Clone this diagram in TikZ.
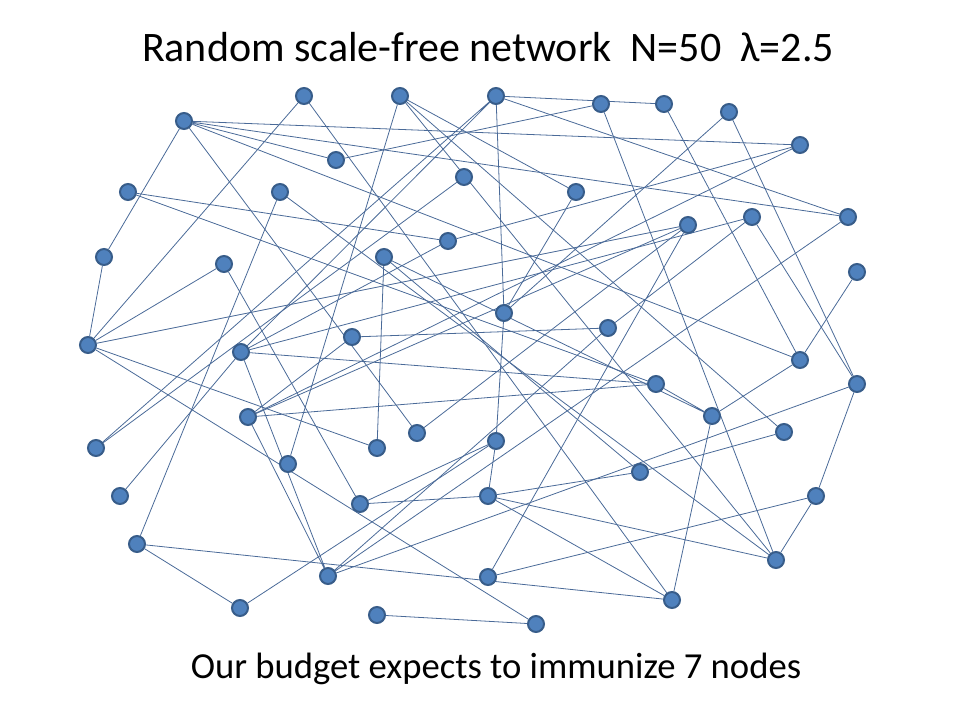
\documentclass[tikz,border=0pt]{standalone}
\usepackage{fontspec}
\setmainfont{Carlito}
\usetikzlibrary{backgrounds}
\definecolor{nodefill}{HTML}{4F81BD}
\definecolor{nodeline}{HTML}{385D8A}
\definecolor{edgeline}{HTML}{4A6A98}
\begin{document}
\begin{tikzpicture}[x=0.75pt,y=-0.75pt,
  vertex/.style={circle,fill=nodefill,draw=nodeline,line width=1.5pt,minimum size=12pt,inner sep=0pt},
  link/.style={edgeline,line width=0.6pt}]
\useasboundingbox (0,0) rectangle (960,720);
\node (title) at (488,47) {\fontsize{31.5}{36}\selectfont Random scale-free network\ \ N=50\ \ λ=2.5};
\node (budget) at (496,669) {\fontsize{27.5}{32}\selectfont Our budget expects to immunize 7 nodes};
\node[vertex] (n1) at (184,121) {};
\node[vertex] (n2) at (304,96) {};
\node[vertex] (n3) at (400,96) {};
\node[vertex] (n4) at (496,96) {};
\node[vertex] (n5) at (601,104) {};
\node[vertex] (n6) at (664,104) {};
\node[vertex] (n7) at (729,112) {};
\node[vertex] (n8) at (800,145) {};
\node[vertex] (n9) at (336,160) {};
\node[vertex] (n10) at (128,192) {};
\node[vertex] (n11) at (280,192) {};
\node[vertex] (n12) at (464,177) {};
\node[vertex] (n13) at (576,192) {};
\node[vertex] (n14) at (848,217) {};
\node[vertex] (n15) at (752,217) {};
\node[vertex] (n16) at (688,225) {};
\node[vertex] (n17) at (448,241) {};
\node[vertex] (n18) at (104,257) {};
\node[vertex] (n19) at (224,264) {};
\node[vertex] (n20) at (384,257) {};
\node[vertex] (n21) at (857,272) {};
\node[vertex] (n22) at (504,313) {};
\node[vertex] (n23) at (608,328) {};
\node[vertex] (n24) at (88,345) {};
\node[vertex] (n25) at (352,337) {};
\node[vertex] (n26) at (241,352) {};
\node[vertex] (n27) at (800,360) {};
\node[vertex] (n28) at (656,384) {};
\node[vertex] (n29) at (857,384) {};
\node[vertex] (n30) at (248,417) {};
\node[vertex] (n31) at (712,416) {};
\node[vertex] (n32) at (417,433) {};
\node[vertex] (n33) at (377,448) {};
\node[vertex] (n34) at (496,441) {};
\node[vertex] (n35) at (784,432) {};
\node[vertex] (n36) at (96,448) {};
\node[vertex] (n37) at (288,464) {};
\node[vertex] (n38) at (640,472) {};
\node[vertex] (n39) at (120,496) {};
\node[vertex] (n40) at (360,504) {};
\node[vertex] (n41) at (488,496) {};
\node[vertex] (n42) at (816,496) {};
\node[vertex] (n43) at (137,544) {};
\node[vertex] (n44) at (776,560) {};
\node[vertex] (n45) at (328,576) {};
\node[vertex] (n46) at (488,577) {};
\node[vertex] (n47) at (672,600) {};
\node[vertex] (n48) at (240,608) {};
\node[vertex] (n49) at (377,615) {};
\node[vertex] (n50) at (536,624) {};
\begin{scope}[on background layer]
\draw[link] (n1) -- (n8) (n1) -- (n14) (n1) -- (n9) (n1) -- (n27) (n1) -- (n18) (n1) -- (n32);
\draw[link] (n18) -- (n24) (n2) -- (n24) (n2) -- (n47);
\draw[link] (n3) -- (n37) (n3) -- (n13) (n3) -- (n44) (n3) -- (n35);
\draw[link] (n4) -- (n6) (n4) -- (n14) (n4) -- (n22) (n4) -- (n36) (n4) -- (n26);
\draw[link] (n9) -- (n5) (n5) -- (n44) (n6) -- (n27) (n7) -- (n22) (n7) -- (n29);
\draw[link] (n8) -- (n17) (n8) -- (n30) (n10) -- (n17) (n10) -- (n28);
\draw[link] (n11) -- (n43) (n11) -- (n44) (n12) -- (n36);
\draw[link] (n19) -- (n24) (n19) -- (n40) (n24) -- (n16) (n24) -- (n33) (n24) -- (n50);
\draw[link] (n13) -- (n22) (n25) -- (n23) (n22) -- (n34);
\draw[link] (n34) -- (n41) (n40) -- (n34) (n40) -- (n41) (n48) -- (n34);
\draw[link] (n43) -- (n47) (n41) -- (n47) (n47) -- (n31) (n41) -- (n44) (n41) -- (n38);
\draw[link] (n26) -- (n45) (n30) -- (n45) (n30) -- (n28) (n26) -- (n28) (n26) -- (n17) (n26) -- (n15) (n39) -- (n26);
\draw[link] (n27) -- (n21) (n28) -- (n31) (n20) -- (n38) (n20) -- (n33) (n20) -- (n31);
\draw[link] (n15) -- (n23) (n15) -- (n29) (n16) -- (n30) (n16) -- (n32) (n16) -- (n46);
\draw[link] (n46) -- (n42) (n44) -- (n42) (n29) -- (n42) (n35) -- (n38);
\draw[link] (n45) -- (n23) (n45) -- (n29) (n14) -- (n45) (n43) -- (n48) (n49) -- (n50);
\draw[link] (n27) -- (n31) (n30) -- (n25);
\end{scope}
\end{tikzpicture}
\end{document}
